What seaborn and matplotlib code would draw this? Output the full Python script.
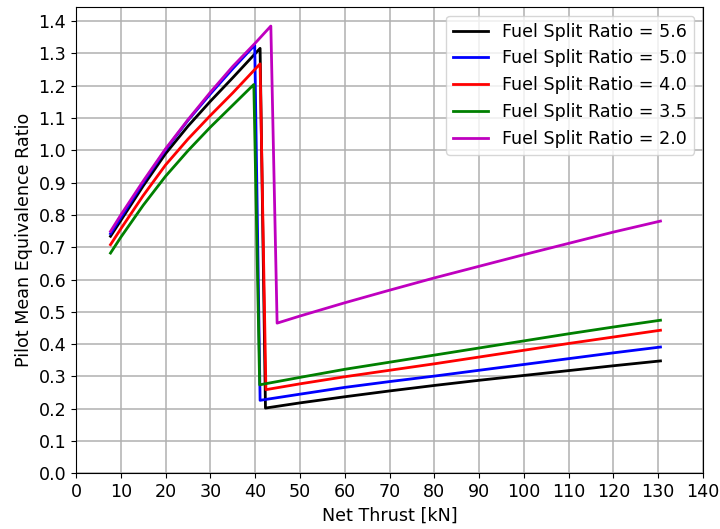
import matplotlib
matplotlib.use("Agg")
import matplotlib.pyplot as plt
import seaborn as sns
import pandas as pd
import numpy as np

# Data (Net Thrust [kN] vs Pilot Mean Equivalence Ratio)
labels = ["Fuel Split Ratio = 5.6", "Fuel Split Ratio = 5.0", "Fuel Split Ratio = 4.0",
          "Fuel Split Ratio = 3.5", "Fuel Split Ratio = 2.0"]
colors = ["#000000", "#0000ff", "#ff0000", "#008000", "#bf00bf"]

x_fsr56 = [7.7, 10, 15, 20, 25, 30, 35, 41.1, 42.3, 50, 60, 70, 80, 90, 100, 110, 120, 130.5]
y_fsr56 = [0.734, 0.783, 0.890, 0.990, 1.075, 1.152, 1.225, 1.316, 0.202, 0.218, 0.237, 0.255,
           0.272, 0.288, 0.303, 0.318, 0.333, 0.348]

x_fsr50 = [7.7, 10, 15, 20, 25, 30, 35, 39.9, 41.1, 50, 60, 70, 80, 90, 100, 110, 120, 130.5]
y_fsr50 = [0.742, 0.792, 0.900, 1.002, 1.093, 1.175, 1.253, 1.326, 0.226, 0.245, 0.266, 0.284,
           0.301, 0.319, 0.337, 0.355, 0.373, 0.391]

x_fsr40 = [7.7, 10, 15, 20, 25, 30, 35, 41.1, 42.4, 50, 60, 70, 80, 90, 100, 110, 120, 130.5]
y_fsr40 = [0.708, 0.757, 0.860, 0.955, 1.035, 1.108, 1.178, 1.268, 0.259, 0.277, 0.299, 0.319,
           0.339, 0.360, 0.381, 0.402, 0.422, 0.443]

x_fsr35 = [7.7, 10, 15, 20, 25, 30, 35, 39.7, 41.0, 50, 60, 70, 80, 90, 100, 110, 120, 130.5]
y_fsr35 = [0.682, 0.731, 0.830, 0.920, 0.999, 1.072, 1.140, 1.204, 0.274, 0.297, 0.322, 0.344,
           0.366, 0.388, 0.410, 0.432, 0.453, 0.474]

x_fsr20 = [7.7, 10, 15, 20, 25, 30, 35, 40, 43.5, 44.9, 50, 60, 70, 80, 90, 100, 110, 120, 130.5]
y_fsr20 = [0.749, 0.800, 0.905, 1.005, 1.095, 1.180, 1.260, 1.332, 1.385, 0.465, 0.487, 0.528,
           0.567, 0.605, 0.641, 0.677, 0.712, 0.747, 0.781]

xs = [x_fsr56, x_fsr50, x_fsr40, x_fsr35, x_fsr20]
ys = [y_fsr56, y_fsr50, y_fsr40, y_fsr35, y_fsr20]

frames = []
for lab, xv, yv in zip(labels, xs, ys):
    frames.append(pd.DataFrame({"thrust": xv, "phi": yv, "series": lab}))
df = pd.concat(frames, ignore_index=True)

plt.rcParams.update({
    "font.family": ["DejaVu Sans"],
    "font.size": 12.6,
    "axes.labelsize": 12.6,
    "xtick.labelsize": 12.6,
    "ytick.labelsize": 12.6,
    "legend.fontsize": 12.6,
})

fig = plt.figure(figsize=(7.2, 5.29), dpi=100)
ax = fig.add_axes([0.1056, 0.1053, 0.8708, 0.8815])

sns.lineplot(data=df, x="thrust", y="phi", hue="series", hue_order=labels,
             palette=colors, sort=False, estimator=None, units="series",
             linewidth=2.0, ax=ax)

ax.set_xlim(0, 140)
ax.set_ylim(0, 1.444)
ax.set_xticks(np.arange(0, 141, 10))
ax.set_yticks(np.round(np.arange(0, 1.41, 0.1), 1))
ax.set_yticklabels([f"{v:.1f}" for v in np.arange(0, 1.41, 0.1)])
ax.grid(True, color="#b0b0b0", linewidth=1.1)
ax.set_axisbelow(True)
ax.set_xlabel("Net Thrust [kN]")
ax.set_ylabel("Pilot Mean Equivalence Ratio")
leg = ax.legend(loc="upper right", title=None)
for line in leg.get_lines():
    line.set_linewidth(2.0)

fig.savefig("out.png", dpi=100)
